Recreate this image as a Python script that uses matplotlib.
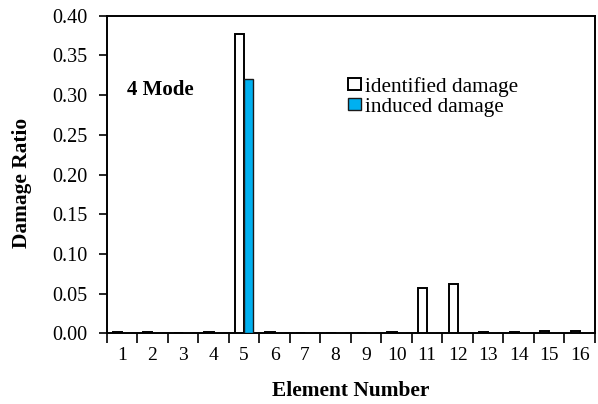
import matplotlib
matplotlib.use("Agg")
import matplotlib.pyplot as plt
import numpy as np

elements = list(range(1, 17))
identified = [0.002, 0.002, 0.0, 0.002, 0.377, 0.002, 0.0, 0.0, 0.0, 0.002, 0.057, 0.062, 0.002, 0.002, 0.003, 0.003]
induced = [0.0, 0.0, 0.0, 0.0, 0.320, 0.0, 0.0, 0.0, 0.0, 0.0, 0.0, 0.0, 0.0, 0.0, 0.0, 0.0]
yticks = [0.00, 0.05, 0.10, 0.15, 0.20, 0.25, 0.30, 0.35, 0.40]

plt.rcParams['font.family'] = ['Liberation Serif', 'DejaVu Serif']

fig = plt.figure(figsize=(5.98, 4.04), dpi=100)
ax = fig.add_axes([106.7/598, 1-333.3/404, (595-106.7)/598, (333.3-15.7)/404])

x = np.array(elements)
w = 0.3
ax.bar(x - w/2, identified, width=w, color='white', edgecolor='black', linewidth=1.4,
       label='identified damage', zorder=3)
ax.bar(x + w/2, induced, width=w, color='#00B0F0', edgecolor='#1a1a1a', linewidth=1.0,
       label='induced damage', zorder=3)

ax.set_xlim(0.5, 16.5)
ax.set_ylim(0, 0.40)
ax.set_yticks(yticks)
ax.set_yticklabels([f"{v:.2f}" for v in yticks])
ax.set_xticks(x)
ax.set_xticklabels([str(e) for e in elements])
ax.set_xticks(np.arange(0.5, 17, 1.0), minor=True)
ax.tick_params(axis='x', which='major', length=0, labelsize=14, pad=10)
ax.tick_params(axis='x', which='minor', length=7, width=1.2, direction='out')
ax.tick_params(axis='y', which='major', length=6, width=1.2, direction='out', labelsize=14.5, pad=8)

for s in ax.spines.values():
    s.set_linewidth(1.4)

ax.set_xlabel('Element Number', fontsize=15.4, fontweight='bold')
ax.set_ylabel('Damage Ratio', fontsize=15.4, fontweight='bold')
ax.xaxis.set_label_coords(0.5, -(391-333.3)/(333.3-15.7))
ax.xaxis.label.set_va('center')
ax.yaxis.set_label_coords(-(106.7-22)/(595-106.7), (333.3-183)/(333.3-15.7))
ax.yaxis.label.set_va('center')

ax.text(127/598, 1-90/404, '4 Mode', transform=fig.transFigure, fontsize=15,
        fontweight='bold', ha='left', va='center')

leg = ax.legend(loc='upper left', bbox_to_anchor=(348/598, 1-77/404),
                bbox_transform=fig.transFigure, frameon=False, fontsize=15.3,
                handlelength=0.62, handleheight=0.5, handletextpad=0.2,
                labelspacing=0.05, borderpad=0, borderaxespad=0)

fig.savefig('out.png', dpi=100)
